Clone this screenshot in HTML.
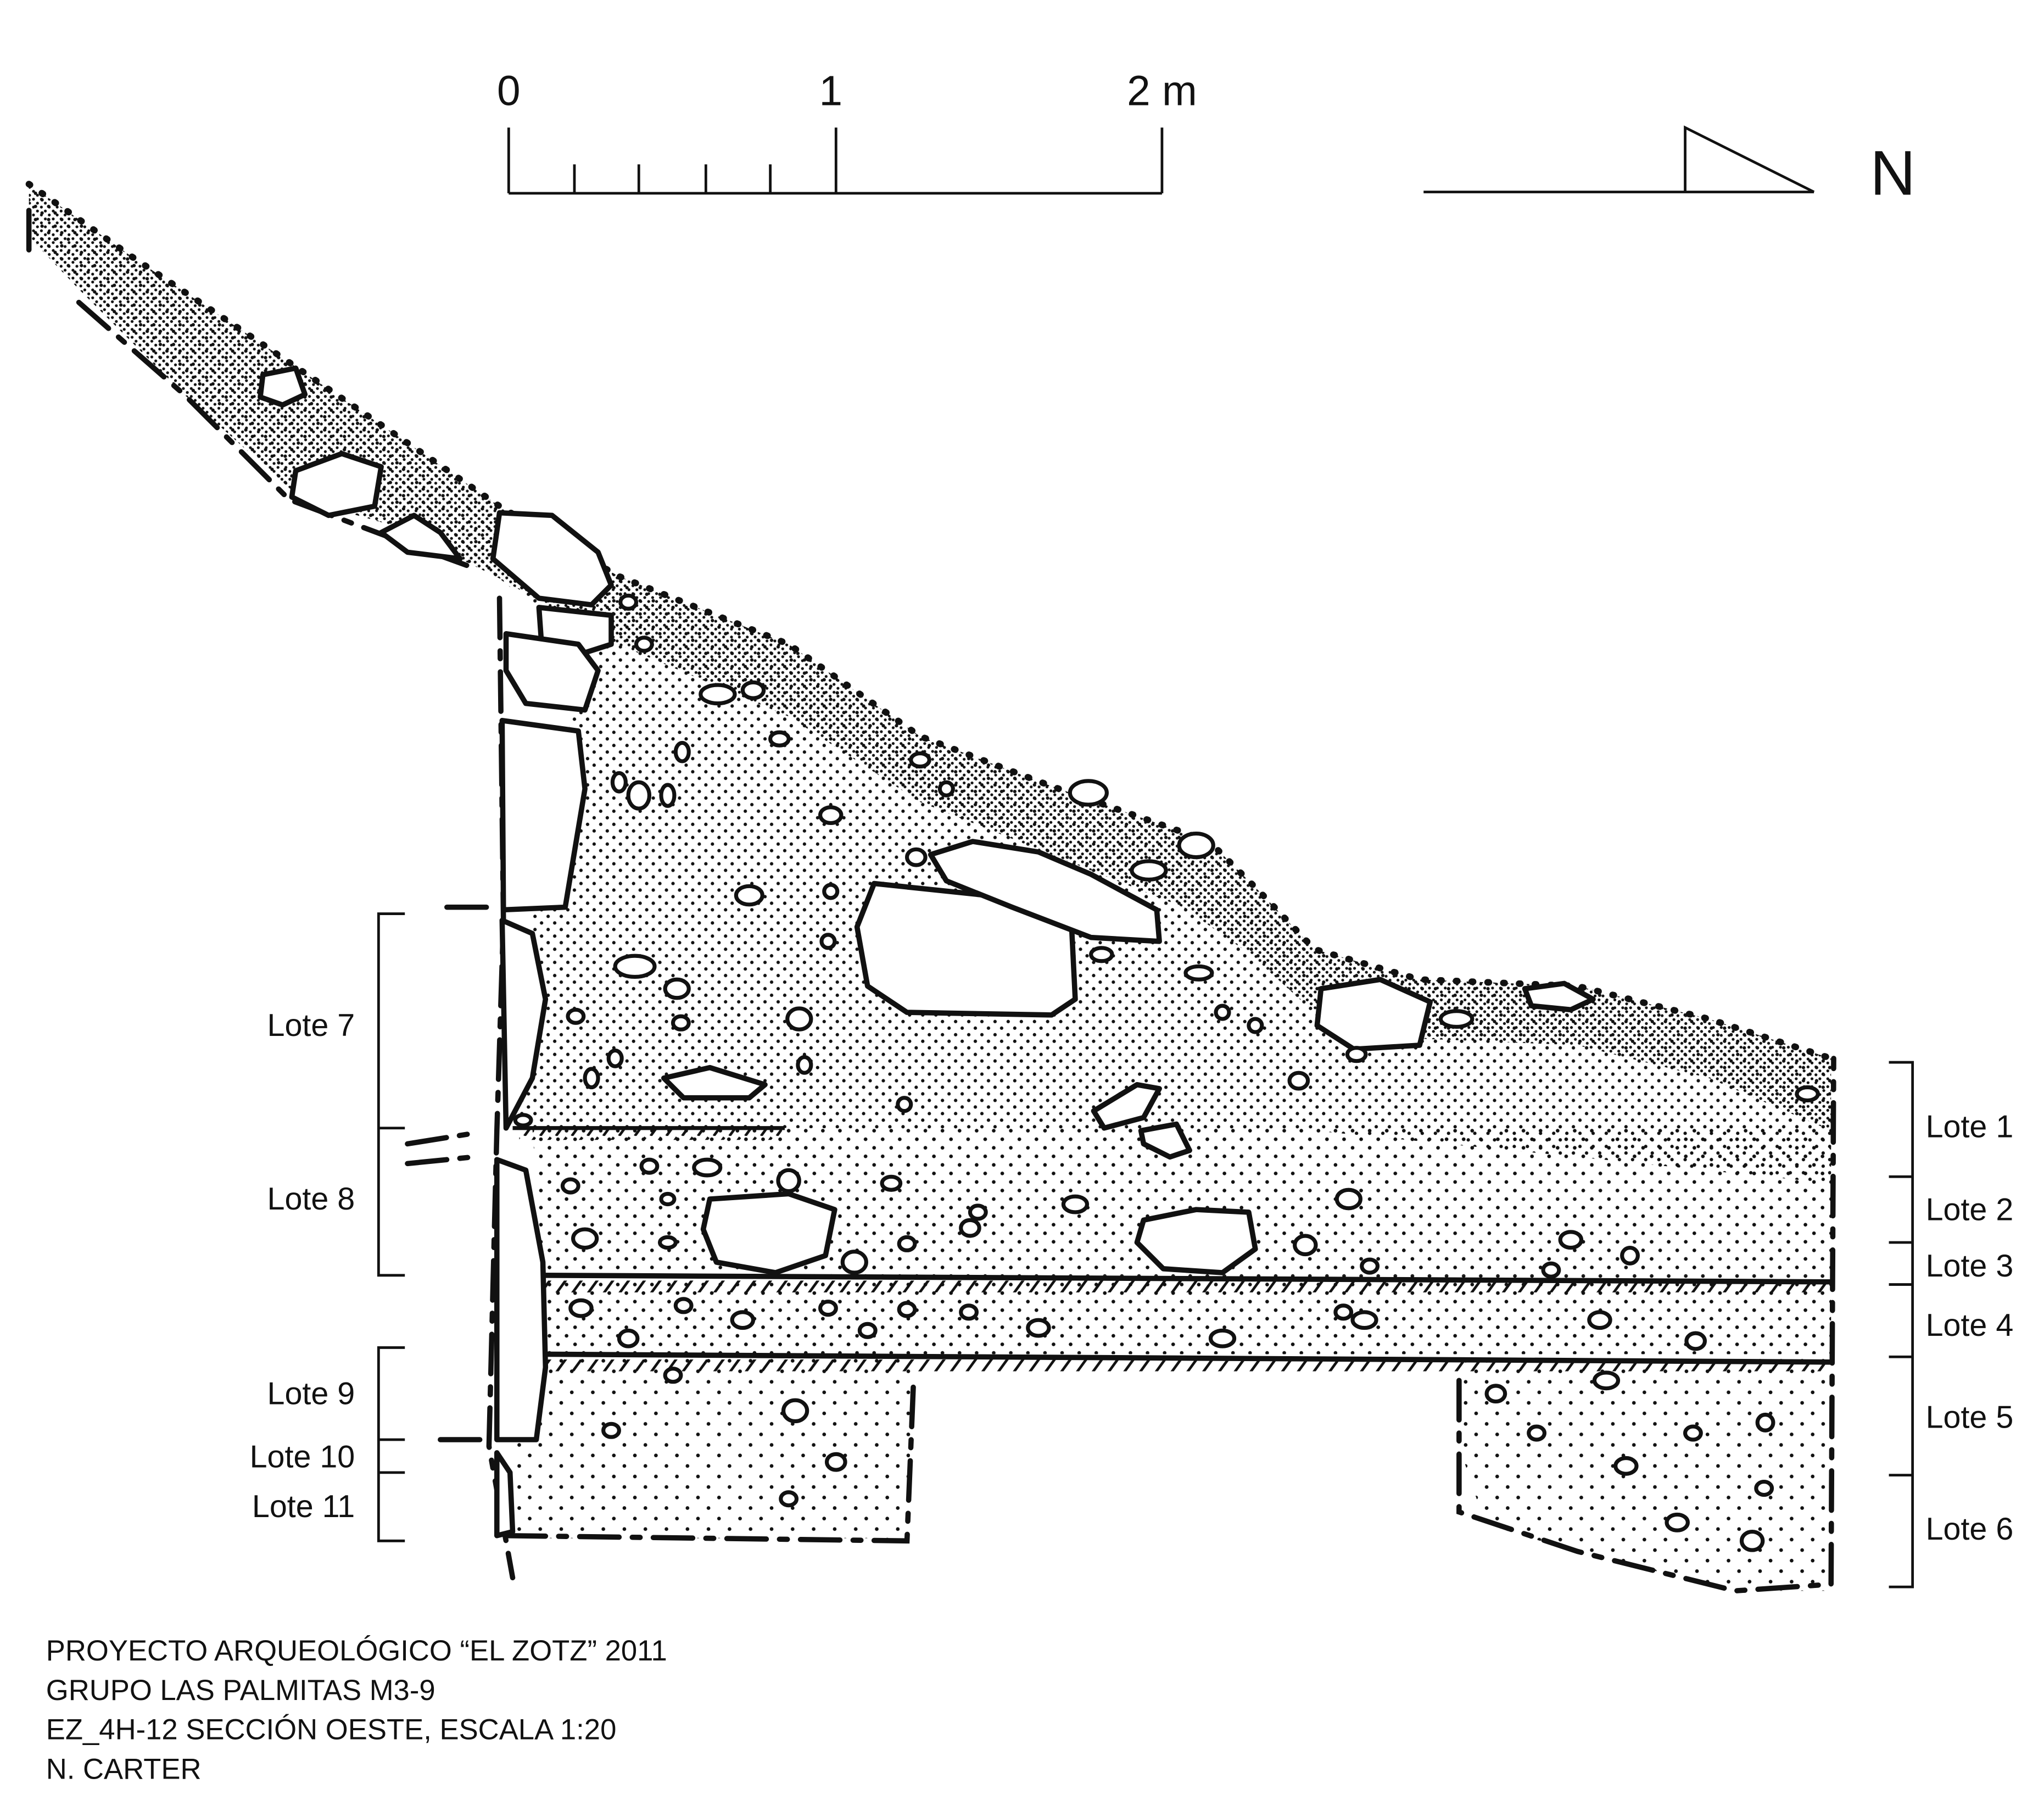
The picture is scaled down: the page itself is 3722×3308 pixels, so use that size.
<!DOCTYPE html>
<html><head><meta charset="utf-8"><style>
html,body{margin:0;padding:0;background:#fff;}
svg{display:block;}
text{font-family:"Liberation Sans",sans-serif;fill:#111;}
</style></head><body>
<svg width="3722" height="3308" viewBox="0 0 1555 1382" xmlns="http://www.w3.org/2000/svg">
<defs>
<pattern id="dense" width="6" height="6" patternUnits="userSpaceOnUse">
<circle cx="1.5" cy="1.5" r="1.1" fill="#111"/><circle cx="4.5" cy="4.5" r="1.1" fill="#111"/></pattern>
<pattern id="up" width="10" height="10" patternUnits="userSpaceOnUse">
<circle cx="2" cy="2" r="1.3" fill="#111"/><circle cx="7" cy="7" r="1.3" fill="#111"/></pattern>
<pattern id="mid" width="13" height="13" patternUnits="userSpaceOnUse">
<circle cx="2" cy="2" r="1.4" fill="#111"/><circle cx="8.5" cy="8.5" r="1.4" fill="#111"/></pattern>
<pattern id="sparse" width="16" height="16" patternUnits="userSpaceOnUse">
<circle cx="3" cy="3" r="1.4" fill="#111"/><circle cx="11" cy="11" r="1.4" fill="#111"/></pattern>
<pattern id="hatch" width="12" height="12" patternUnits="userSpaceOnUse">
<line x1="3" y1="12" x2="11" y2="1" stroke="#111" stroke-width="2"/></pattern>
</defs>

<g stroke="#111" stroke-width="2" fill="none">
<line x1="387" y1="147" x2="884" y2="147"/>
<line x1="387" y1="97" x2="387" y2="147"/>
<line x1="636" y1="97" x2="636" y2="147"/>
<line x1="884" y1="97" x2="884" y2="147"/>
<line x1="437" y1="125" x2="437" y2="147"/>
<line x1="486" y1="125" x2="486" y2="147"/>
<line x1="537" y1="125" x2="537" y2="147"/>
<line x1="586" y1="125" x2="586" y2="147"/>
<line x1="1083" y1="146" x2="1380" y2="146"/>
<polyline points="1282,146 1282,97 1380,146"/>
</g>
<text x="387" y="80" font-size="32" text-anchor="middle">0</text>
<text x="632" y="80" font-size="32" text-anchor="middle">1</text>
<text x="884" y="80" font-size="32" text-anchor="middle">2 m</text>
<text x="1440" y="148" font-size="48" text-anchor="middle">N</text>

<path d="M22,140 L100,195 L200,262 L300,330 L380,385 L470,438 L600,490 L700,560 L800,598 L920,640 L960,680 L1000,722 L1080,745 L1200,750 L1300,775 L1393,805 L1393,900 L1200,880 L1000,860 L600,858 L390,858 L405,700 L430,560 L455,500 L380,440 L350,425 L300,400 L230,380 L140,300 L60,220 L22,180 Z" fill="url(#up)"/>
<path d="M22,140 L100,195 L200,262 L300,330 L380,385 L470,438 L600,490 L700,560 L800,598 L920,640 L960,680 L1000,722 L1080,745 L1200,750 L1300,775 L1393,805 L1393,860 L1300,820 L1200,795 L1080,790 L1000,770 L950,725 L900,690 L800,650 L700,610 L600,545 L470,490 L380,440 L300,400 L230,380 L140,300 L60,220 L22,180 Z" fill="url(#dense)"/>
<path d="M405,858 L1393,858 L1393,970 L413,970 Z" fill="url(#mid)"/>
<path d="M413,970 L1393,970 L1393,1030 L413,1030 Z" fill="url(#mid)"/>
<path d="M390,1030 L695,1030 L690,1170 L390,1170 Z" fill="url(#sparse)"/>
<path d="M1110,1030 L1393,1030 L1393,1210 L1320,1210 L1200,1180 L1130,1160 L1110,1100 Z" fill="url(#sparse)"/>

<path d="M22,140 L100,195 L200,262 L300,330 L380,385 L470,438 L600,490 L700,560 L800,598 L920,640 L960,680 L1000,722 L1080,745 L1200,750 L1300,775 L1393,805" fill="none" stroke="#111" stroke-width="5" stroke-dasharray="1 11" stroke-linecap="round"/>

<g stroke="#111" fill="none">
<line x1="390" y1="858" x2="597" y2="858" stroke-width="3"/>
<rect x="395" y="859" width="200" height="8" fill="url(#hatch)" stroke="none"/>
<line x1="413" y1="970" x2="1393" y2="975" stroke-width="4"/>
<rect x="415" y="974" width="975" height="9" fill="url(#hatch)" stroke="none"/>
<line x1="413" y1="1030" x2="1393" y2="1036" stroke-width="4"/>
<rect x="415" y="1034" width="975" height="9" fill="url(#hatch)" stroke="none"/>
</g>

<g stroke="#111" stroke-width="4" fill="none" stroke-dasharray="30 10 6 10" stroke-linecap="round">
<path d="M22,160 L22,190 M60,230 L140,300 L220,380 L300,410 L355,430"/>
<path d="M380,455 L383,700 L378,860 L372,1100 L390,1200"/>
<path d="M385,1168 L690,1172 L695,1050"/>
<path d="M1110,1050 L1110,1150 L1200,1180 L1320,1210 L1393,1205 L1395,805"/>
<path d="M340,690 L380,690 M310,870 L360,862 M310,885 L360,880 M335,1095 L372,1095"/>
</g>

<g stroke="#111" stroke-width="4" fill="#fff" stroke-linejoin="round">
<path d="M382,548 L440,556 L445,600 L430,690 L383,692 Z"/>
<path d="M382,700 L405,710 L415,760 L405,820 L385,858 Z"/>
<path d="M378,882 L400,890 L413,960 L415,1040 L408,1095 L378,1095 Z"/>
<path d="M378,1105 L388,1120 L390,1165 L378,1168 Z"/>
<path d="M410,462 L465,468 L465,490 L440,498 L412,490 Z"/>
<path d="M385,482 L440,490 L455,510 L445,540 L400,535 L385,510 Z"/>
<path d="M380,390 L420,392 L455,420 L465,445 L450,460 L410,455 L375,425 Z"/>
<path d="M225,358 L260,345 L290,355 L285,385 L250,392 L222,378 Z"/>
<path d="M200,285 L225,280 L232,300 L215,308 L198,302 Z"/>
<path d="M290,405 L315,392 L335,405 L350,425 L310,420 Z"/>
<path d="M665,672 L760,682 L815,700 L818,760 L800,772 L690,770 L660,750 L652,705 Z"/>
<path d="M708,650 L740,640 L790,648 L830,665 L880,692 L882,716 L830,713 L770,690 L720,670 Z"/>
<path d="M1005,752 L1050,745 L1088,762 L1080,795 L1030,798 L1002,780 Z"/>
<path d="M540,912 L600,908 L635,920 L628,955 L590,968 L545,960 L535,935 Z"/>
<path d="M870,928 L910,920 L950,922 L955,950 L930,968 L885,965 L865,945 Z"/>
<path d="M1160,752 L1190,748 L1212,760 L1195,768 L1165,765 Z"/>
<path d="M505,820 L540,812 L582,825 L570,835 L520,835 Z"/>
<path d="M832,845 L865,825 L882,828 L870,850 L840,858 Z"/>
<path d="M868,860 L895,855 L905,875 L890,880 L870,870 Z"/>
</g>
<g stroke="#111" stroke-width="3" fill="#fff">
<ellipse cx="546" cy="528" rx="13" ry="7"/><ellipse cx="573" cy="525" rx="8" ry="6"/>
<ellipse cx="490" cy="490" rx="6" ry="5"/><ellipse cx="478" cy="458" rx="6" ry="5"/>
<ellipse cx="519" cy="572" rx="5" ry="7"/><ellipse cx="593" cy="562" rx="7" ry="5"/>
<ellipse cx="486" cy="605" rx="8" ry="10"/><ellipse cx="508" cy="605" rx="5" ry="8"/>
<ellipse cx="471" cy="595" rx="5" ry="7"/><ellipse cx="632" cy="620" rx="8" ry="6"/>
<ellipse cx="700" cy="578" rx="7" ry="5"/><ellipse cx="720" cy="600" rx="5" ry="5"/>
<ellipse cx="828" cy="603" rx="14" ry="9"/><ellipse cx="910" cy="643" rx="13" ry="9"/>
<ellipse cx="874" cy="662" rx="13" ry="7"/><ellipse cx="570" cy="681" rx="10" ry="7"/>
<ellipse cx="632" cy="678" rx="5" ry="5"/><ellipse cx="697" cy="652" rx="7" ry="6"/>
<ellipse cx="483" cy="735" rx="15" ry="8"/><ellipse cx="515" cy="752" rx="9" ry="7"/>
<ellipse cx="630" cy="716" rx="5" ry="5"/><ellipse cx="608" cy="775" rx="9" ry="8"/>
<ellipse cx="438" cy="773" rx="6" ry="5"/><ellipse cx="518" cy="778" rx="6" ry="5"/>
<ellipse cx="468" cy="805" rx="5" ry="6"/><ellipse cx="450" cy="820" rx="5" ry="7"/>
<ellipse cx="612" cy="810" rx="5" ry="6"/><ellipse cx="688" cy="840" rx="5" ry="5"/>
<ellipse cx="838" cy="726" rx="8" ry="5"/><ellipse cx="912" cy="740" rx="10" ry="5"/>
<ellipse cx="955" cy="780" rx="5" ry="5"/><ellipse cx="930" cy="770" rx="5" ry="5"/>
<ellipse cx="988" cy="822" rx="7" ry="6"/><ellipse cx="1032" cy="802" rx="7" ry="5"/>
<ellipse cx="1108" cy="775" rx="12" ry="6"/><ellipse cx="1375" cy="832" rx="8" ry="5"/>
<ellipse cx="398" cy="852" rx="6" ry="4"/>
<ellipse cx="538" cy="888" rx="10" ry="6"/><ellipse cx="494" cy="887" rx="6" ry="5"/>
<ellipse cx="600" cy="898" rx="8" ry="8"/><ellipse cx="434" cy="902" rx="6" ry="5"/>
<ellipse cx="508" cy="912" rx="5" ry="4"/><ellipse cx="678" cy="900" rx="7" ry="5"/>
<ellipse cx="744" cy="922" rx="6" ry="5"/><ellipse cx="738" cy="934" rx="7" ry="6"/>
<ellipse cx="818" cy="916" rx="9" ry="6"/><ellipse cx="1026" cy="912" rx="9" ry="7"/>
<ellipse cx="445" cy="942" rx="9" ry="7"/><ellipse cx="508" cy="945" rx="6" ry="4"/>
<ellipse cx="690" cy="946" rx="6" ry="5"/><ellipse cx="650" cy="960" rx="9" ry="8"/>
<ellipse cx="993" cy="947" rx="8" ry="7"/><ellipse cx="1042" cy="963" rx="6" ry="5"/>
<ellipse cx="1195" cy="943" rx="8" ry="6"/><ellipse cx="1240" cy="955" rx="6" ry="6"/>
<ellipse cx="1180" cy="966" rx="6" ry="5"/>
<ellipse cx="442" cy="995" rx="8" ry="6"/><ellipse cx="520" cy="993" rx="6" ry="5"/>
<ellipse cx="565" cy="1004" rx="8" ry="6"/><ellipse cx="630" cy="995" rx="6" ry="5"/>
<ellipse cx="690" cy="996" rx="6" ry="5"/><ellipse cx="737" cy="998" rx="6" ry="5"/>
<ellipse cx="790" cy="1010" rx="8" ry="6"/><ellipse cx="478" cy="1018" rx="7" ry="6"/>
<ellipse cx="660" cy="1012" rx="6" ry="5"/><ellipse cx="930" cy="1018" rx="9" ry="6"/>
<ellipse cx="1022" cy="998" rx="6" ry="5"/><ellipse cx="1038" cy="1004" rx="9" ry="6"/>
<ellipse cx="1217" cy="1004" rx="8" ry="6"/><ellipse cx="1290" cy="1020" rx="7" ry="6"/>
<ellipse cx="512" cy="1046" rx="6" ry="5"/><ellipse cx="605" cy="1073" rx="9" ry="8"/>
<ellipse cx="465" cy="1088" rx="6" ry="5"/><ellipse cx="636" cy="1112" rx="7" ry="6"/>
<ellipse cx="600" cy="1140" rx="6" ry="5"/><ellipse cx="1138" cy="1060" rx="7" ry="6"/>
<ellipse cx="1222" cy="1050" rx="9" ry="6"/><ellipse cx="1343" cy="1082" rx="6" ry="6"/>
<ellipse cx="1288" cy="1090" rx="6" ry="5"/><ellipse cx="1237" cy="1115" rx="8" ry="6"/>
<ellipse cx="1342" cy="1132" rx="6" ry="5"/><ellipse cx="1276" cy="1158" rx="8" ry="6"/>
<ellipse cx="1333" cy="1172" rx="8" ry="7"/><ellipse cx="1169" cy="1090" rx="6" ry="5"/>
</g>

<g stroke="#111" stroke-width="2" fill="none">
<polyline points="308,695 288,695 288,858 308,858"/>
<polyline points="288,858 288,970 308,970"/>
<polyline points="308,1025 288,1025 288,1095 308,1095"/>
<polyline points="288,1095 288,1172 308,1172"/>
<line x1="288" y1="1120" x2="308" y2="1120"/>
<polyline points="1437,808 1455,808 1455,1207 1437,1207"/>
<line x1="1437" y1="895" x2="1455" y2="895"/>
<line x1="1437" y1="945" x2="1455" y2="945"/>
<line x1="1437" y1="977" x2="1455" y2="977"/>
<line x1="1437" y1="1032" x2="1455" y2="1032"/>
<line x1="1437" y1="1122" x2="1455" y2="1122"/>
</g>
<g font-size="24">
<text x="270" y="788" text-anchor="end">Lote 7</text>
<text x="270" y="920" text-anchor="end">Lote 8</text>
<text x="270" y="1068" text-anchor="end">Lote 9</text>
<text x="270" y="1116" text-anchor="end">Lote 10</text>
<text x="270" y="1154" text-anchor="end">Lote 11</text>
<text x="1465" y="865">Lote 1</text>
<text x="1465" y="928">Lote 2</text>
<text x="1465" y="971">Lote 3</text>
<text x="1465" y="1016">Lote 4</text>
<text x="1465" y="1086">Lote 5</text>
<text x="1465" y="1171">Lote 6</text>
</g>
<g font-size="22">
<text x="35" y="1263">PROYECTO ARQUEOLÓGICO “EL ZOTZ” 2011</text>
<text x="35" y="1293">GRUPO LAS PALMITAS M3-9</text>
<text x="35" y="1323">EZ_4H-12 SECCIÓN OESTE, ESCALA 1:20</text>
<text x="35" y="1353">N. CARTER</text>
</g>
</svg>
</body></html>
